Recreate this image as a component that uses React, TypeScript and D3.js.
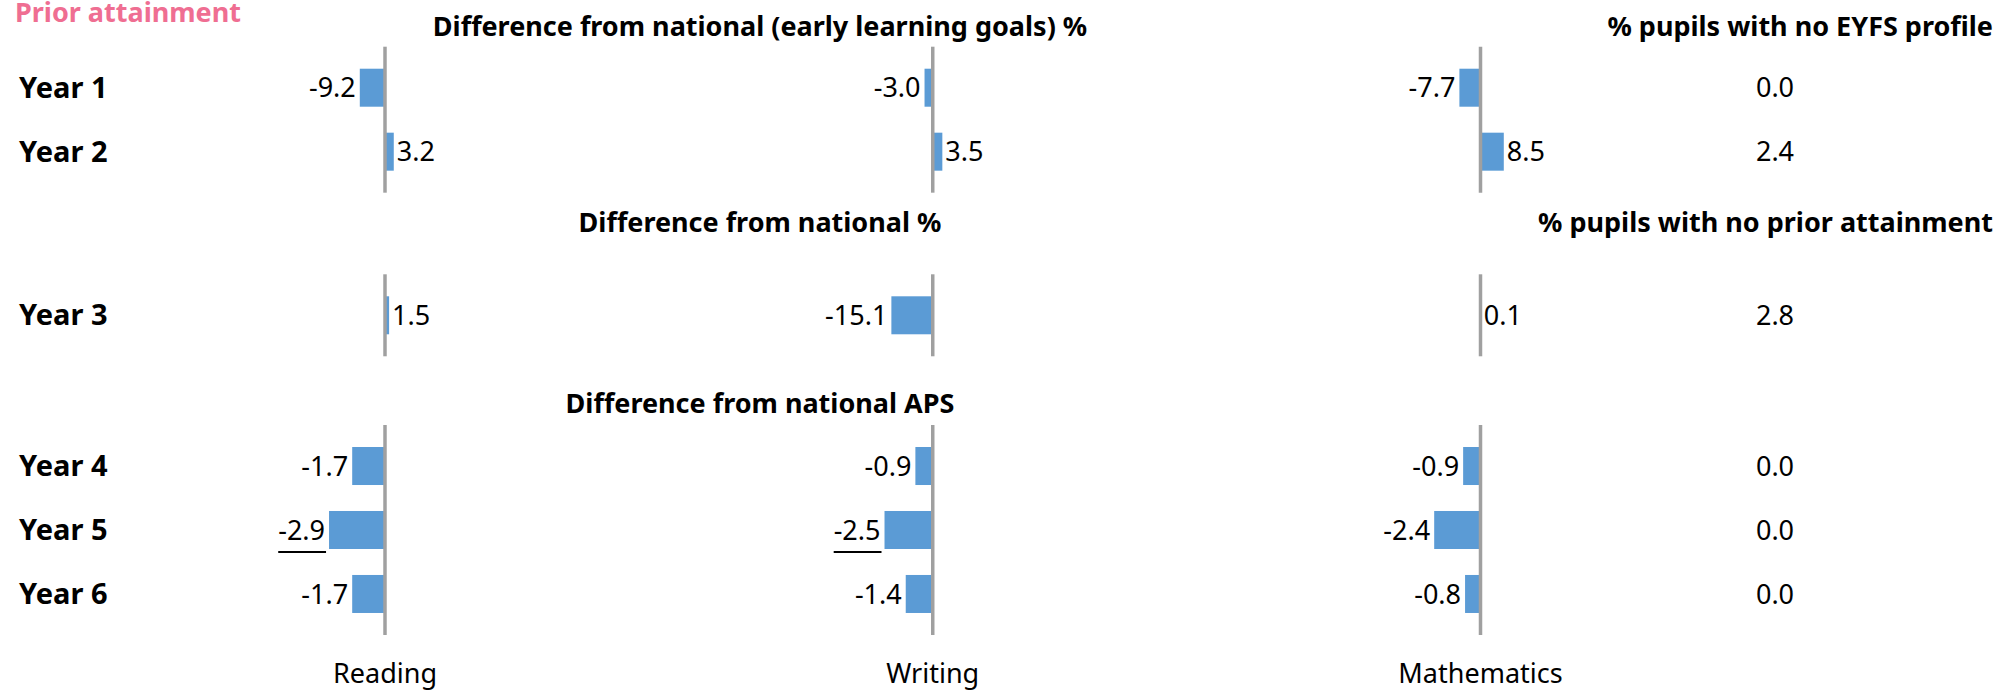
import React, { useMemo } from 'react';
import * as d3 from 'd3';

// ---------- data ----------
const subjects = ['Reading', 'Writing', 'Mathematics'];
const years = ['Year 1', 'Year 2', 'Year 3', 'Year 4', 'Year 5', 'Year 6'];
const reading = [-9.2, 3.2, 1.5, -1.7, -2.9, -1.7];
const writing = [-3.0, 3.5, -15.1, -0.9, -2.5, -1.4];
const mathematics = [-7.7, 8.5, 0.1, -0.9, -2.4, -0.8];
const noPriorPct = [0.0, 2.4, 2.8, 0.0, 0.0, 0.0];
const underlinedReading = ['Year 5'];
const underlinedWriting = ['Year 5'];
const underlinedMathematics: string[] = [];

const sectionTitles = [
  'Difference from national (early learning goals) %',
  'Difference from national %',
  'Difference from national APS',
];
const sideTitles = ['% pupils with no EYFS profile', '% pupils with no prior attainment', ''];
const sectionYears = [['Year 1', 'Year 2'], ['Year 3'], ['Year 4', 'Year 5', 'Year 6']];
const sectionMaxAbs = [100, 100, 14.2];

const pageTitle = 'Prior attainment';

// ---------- layout ----------
const W = 2000;
const H = 690;
const halfWidth = 274;
const sideX = 1775;
const sectionTitleX = 760;
const sideTitleX = 1993;
const sectionLayout = [
  { titleY: 36, top: 46.7 },
  { titleY: 231.7, top: 274.3 },
  { titleY: 413, top: 425 },
];
const rowStep = 64;
const FONT = '"Noto Sans", "Open Sans", sans-serif';
const valueSize = 27;
const titleSize = 27;
const yearSize = 29;
const BAR = '#5B9BD5';
const AXIS = '#A0A0A0';
const PINK = '#EF6E92';

const seriesBySubject = [reading, writing, mathematics];
const underlinedBySubject = [underlinedReading, underlinedWriting, underlinedMathematics];

function fmt(v: number) {
  return v.toFixed(1);
}

export default function App() {
  const measure = useMemo(() => {
    const c = document.createElement('canvas');
    const ctx = c.getContext('2d')!;
    ctx.font = `${valueSize}px ${FONT}`;
    return (s: string) => ctx.measureText(s).width;
  }, []);

  const colX = d3.scalePoint<string>().domain(subjects).range([385, 1480.5]);

  return (
    <svg
      width={W}
      height={H}
      style={{ position: 'absolute', left: 0, top: 0, background: '#fff' }}
      fontFamily={FONT}
    >
      <text x={15} y={22} fontSize={titleSize} fontWeight={700} fill={PINK}>
        {pageTitle}
      </text>

      {sectionYears.map((yrs, si) => {
        const { titleY, top } = sectionLayout[si];
        const yBand = d3
          .scaleBand<string>()
          .domain(yrs)
          .range([top, top + rowStep * (yrs.length + 0.281)])
          .paddingInner(0.406)
          .paddingOuter(0.344);
        const [y0, y1] = yBand.range();
        return (
          <g key={si}>
            <text
              x={sectionTitleX}
              y={titleY}
              fontSize={titleSize}
              fontWeight={700}
              textAnchor="middle"
              fill="#000"
            >
              {sectionTitles[si]}
            </text>
            {sideTitles[si] && (
              <text
                x={sideTitleX}
                y={titleY}
                fontSize={titleSize}
                fontWeight={700}
                textAnchor="end"
                fill="#000"
              >
                {sideTitles[si]}
              </text>
            )}
            {yrs.map((yr) => {
              const cy = (yBand(yr) as number) + yBand.bandwidth() / 2;
              const yi = years.indexOf(yr);
              return (
                <g key={yr}>
                  <text x={19} y={cy + 10} fontSize={yearSize} fontWeight={700} fill="#000">
                    {yr}
                  </text>
                  <text
                    x={sideX}
                    y={cy + valueSize * 0.36}
                    fontSize={valueSize}
                    textAnchor="middle"
                    fill="#000"
                  >
                    {fmt(noPriorPct[yi])}
                  </text>
                </g>
              );
            })}
            {subjects.map((subj, ci) => {
              const ax = colX(subj) as number;
              const x = d3
                .scaleLinear()
                .domain([-sectionMaxAbs[si], sectionMaxAbs[si]])
                .range([ax - halfWidth, ax + halfWidth]);
              return (
                <g key={subj}>
                  {yrs.map((yr) => {
                    const yi = years.indexOf(yr);
                    const v = seriesBySubject[ci][yi];
                    const by = yBand(yr) as number;
                    const cy = by + yBand.bandwidth() / 2;
                    const xv = x(v);
                    const x0 = x(0);
                    const label = fmt(v);
                    const neg = v < 0;
                    const tx = neg ? xv - 4 : xv + 3;
                    const tw = measure(label);
                    const under = underlinedBySubject[ci].includes(yr);
                    return (
                      <g key={yr}>
                        <rect
                          x={Math.min(xv, x0)}
                          y={by}
                          width={Math.abs(xv - x0)}
                          height={yBand.bandwidth()}
                          fill={BAR}
                        />
                        <text
                          x={tx}
                          y={cy + valueSize * 0.36}
                          fontSize={valueSize}
                          textAnchor={neg ? 'end' : 'start'}
                          fill="#000"
                        >
                          {label}
                        </text>
                        {under && (
                          <line
                            x1={neg ? tx - tw : tx}
                            x2={neg ? tx + 1 : tx + tw + 1}
                            y1={cy + 22}
                            y2={cy + 22}
                            stroke="#000"
                            strokeWidth={2}
                          />
                        )}
                      </g>
                    );
                  })}
                  <line x1={ax} x2={ax} y1={y0} y2={y1} stroke={AXIS} strokeWidth={3.5} />
                </g>
              );
            })}
          </g>
        );
      })}

      {subjects.map((subj) => (
        <text
          key={subj}
          x={colX(subj) as number}
          y={683}
          fontSize={valueSize}
          textAnchor="middle"
          fill="#000"
        >
          {subj}
        </text>
      ))}
    </svg>
  );
}
